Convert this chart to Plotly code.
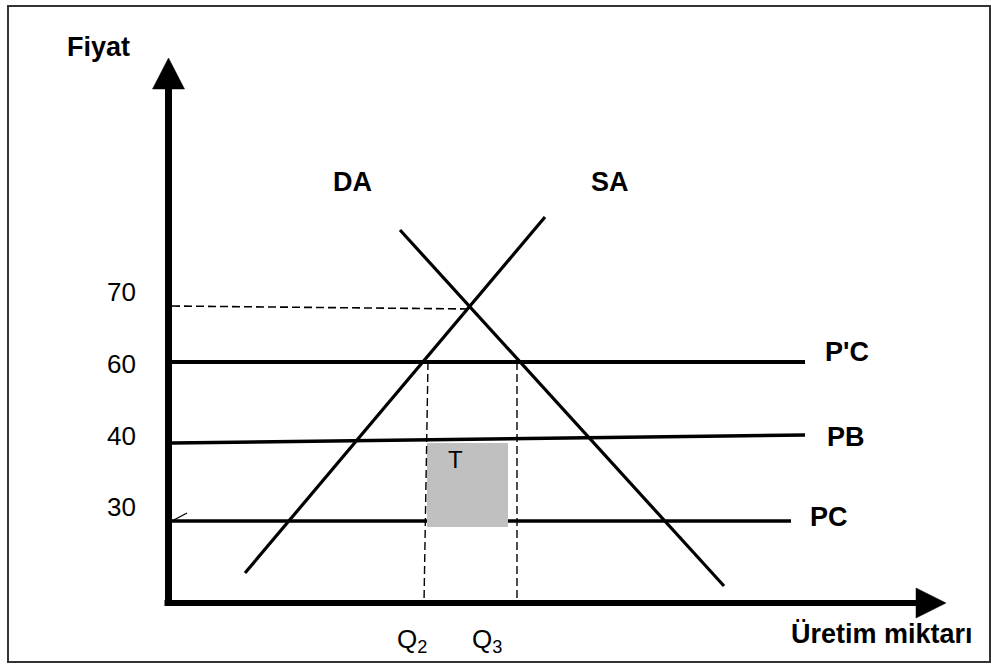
import plotly.graph_objects as go

# ---- diagram data (diagram units: origin at the axes corner) ----
price_labels = ["70", "60", "40", "30"]
price_label_pos = [311, 239, 167, 96]

da_q = [232, 556]
da_p = [373, 17]
sa_q = [77, 377]
sa_p = [30, 386]

eq_q = [4, 301]          # dashed line at 70
eq_p = [297, 294]
pcp_q = [4, 637]         # P'C
pcp_p = [241, 241]
pb_q = [4, 637]          # PB
pb_p = [160, 168]
pc_q = [4, 623]          # PC
pc_p = [82, 82]
pc_tick_q = [4, 19]
pc_tick_p = [82, 90]

q2_q = [260, 256]
q2_p = [241, 0]
q3_q = [349, 349]
q3_p = [241, 0]

t_q = [259, 340, 340, 259, 259]
t_p = [76, 76, 160, 160, 76]

yaxis_q = [0.5, 0.5]
yaxis_p = [-3, 516]
yhead_q = [-15.5, 16.5, 0.5, -15.5]
yhead_p = [514, 514, 545, 514]
xaxis_q = [-3.5, 750]
xaxis_p = [0, 0]
xhead_q = [748, 748, 778, 748]
xhead_p = [15, -15, 0, 15]

curve_labels = ["DA", "SA", "P'C", "PB", "PC"]
curve_label_q = [184, 441.5, 679, 678, 660.5]
curve_label_p = [421, 421, 251.5, 166, 86]

q_labels = ["Q<sub>2</sub>", "Q<sub>3</sub>"]
q_label_q = [244, 319]
q_label_p = [-37, -37]

FONT = "Liberation Sans, Arial, sans-serif"
BLACK = "#000000"

fig = go.Figure()

def line(q, p, w, dash=None):
    fig.add_trace(go.Scatter(x=q, y=p, mode="lines",
                             line=dict(color=BLACK, width=w, dash=dash),
                             hoverinfo="skip"))

def tri(q, p):
    fig.add_trace(go.Scatter(x=q, y=p, mode="lines", fill="toself",
                             fillcolor=BLACK, line=dict(color=BLACK, width=0.5),
                             hoverinfo="skip"))

line(pc_q, pc_p, 3.5)
line(pc_tick_q, pc_tick_p, 1.2)
line(pb_q, pb_p, 3.5)
line(pcp_q, pcp_p, 4)
fig.add_trace(go.Scatter(x=t_q, y=t_p, mode="lines", fill="toself",
                         fillcolor="#C0C0C0", line=dict(color="#C0C0C0", width=0),
                         hoverinfo="skip"))
line(eq_q, eq_p, 1.6, dash="8px,4px")
line(q2_q, q2_p, 1.4, dash="8px,4px")
line(q3_q, q3_p, 1.4, dash="8px,4px")
line(da_q, da_p, 3.2)
line(sa_q, sa_p, 3.2)
line(yaxis_q, yaxis_p, 7)
line(xaxis_q, xaxis_p, 6)
tri(yhead_q, yhead_p)
tri(xhead_q, xhead_p)

ann = []
for t, p in zip(price_labels, price_label_pos):
    ann.append(dict(x=-46.5, y=p, text=t, showarrow=False,
                    font=dict(size=26, family=FONT, color=BLACK)))
for t, q, p in zip(curve_labels, curve_label_q, curve_label_p):
    ann.append(dict(x=q, y=p, text="<b>" + t + "</b>", showarrow=False,
                    font=dict(size=27, family=FONT, color=BLACK)))
for t, q, p in zip(q_labels, q_label_q, q_label_p):
    ann.append(dict(x=q, y=p, text=t, showarrow=False,
                    font=dict(size=26, family=FONT, color=BLACK)))
ann.append(dict(x=-69.5, y=556.5, text="<b>Fiyat</b>", showarrow=False,
                font=dict(size=27, family=FONT, color=BLACK)))
ann.append(dict(x=714, y=-31, text="<b>Üretim miktarı</b>", showarrow=False,
                font=dict(size=27, family=FONT, color=BLACK)))
ann.append(dict(x=287, y=143.5, text="T", showarrow=False,
                font=dict(size=24, family=FONT, color=BLACK)))

fig.update_layout(
    width=991, height=664,
    margin=dict(l=0, r=0, t=0, b=0),
    paper_bgcolor="white", plot_bgcolor="white",
    showlegend=False,
    xaxis=dict(range=[-168, 823], visible=False, fixedrange=True),
    yaxis=dict(range=[-61, 603], visible=False, fixedrange=True),
    annotations=ann,
    shapes=[dict(type="rect", xref="paper", yref="paper",
                 x0=8 / 991, x1=990 / 991, y0=1 - 662 / 664, y1=1 - 6 / 664,
                 line=dict(color="#333333", width=2))],
    hovermode=False,
)

fig.write_html("out.html", config={"displayModeBar": False},
               post_script="document.body.style.margin='0';document.body.style.overflow='hidden';")
